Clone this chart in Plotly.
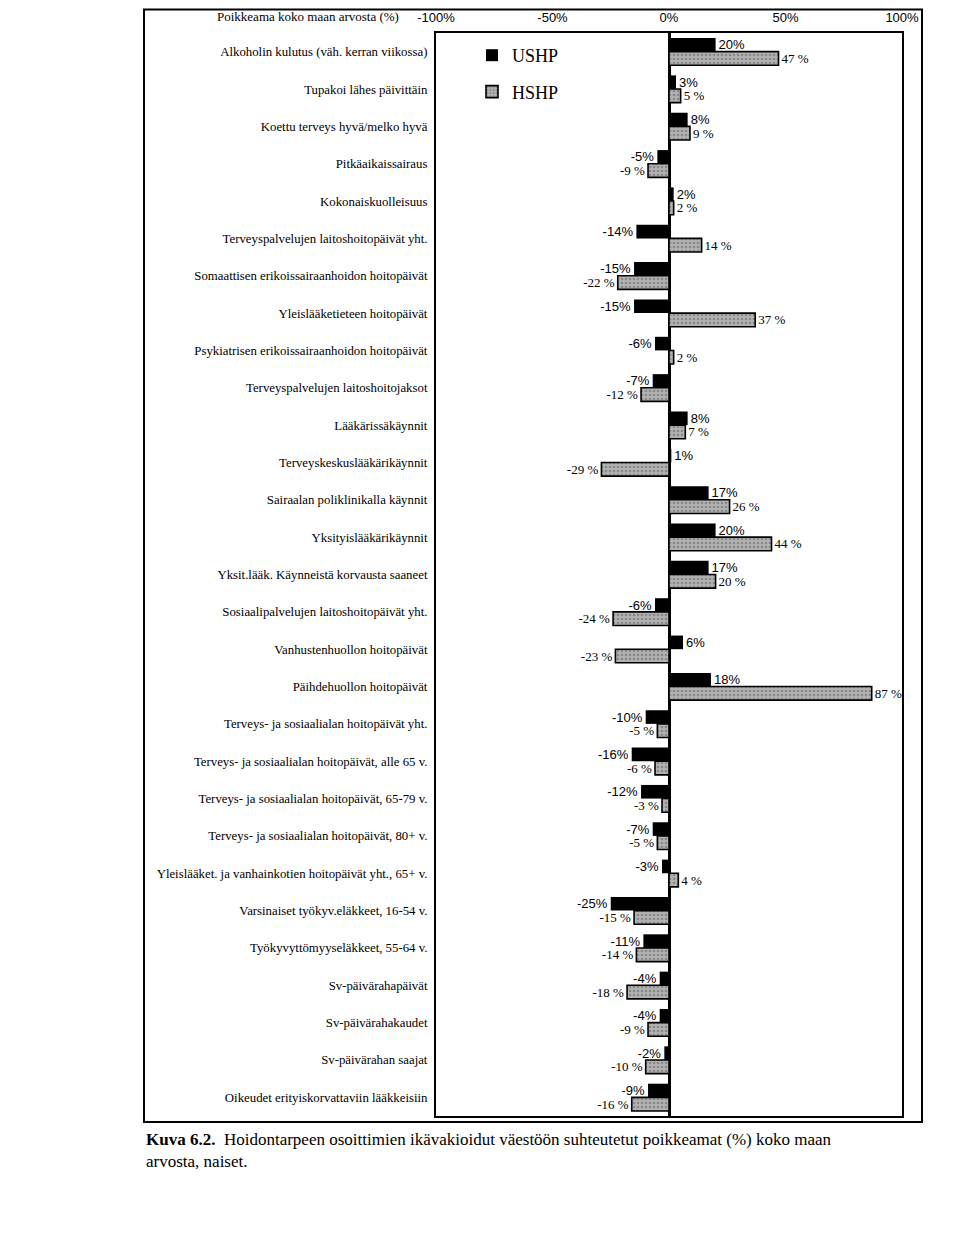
import plotly.graph_objects as go

categories = [
    "Alkoholin kulutus (väh. kerran viikossa)",
    "Tupakoi lähes päivittäin",
    "Koettu terveys hyvä/melko hyvä",
    "Pitkäaikaissairaus",
    "Kokonaiskuolleisuus",
    "Terveyspalvelujen laitoshoitopäivät yht.",
    "Somaattisen erikoissairaanhoidon hoitopäivät",
    "Yleislääketieteen hoitopäivät",
    "Psykiatrisen erikoissairaanhoidon hoitopäivät",
    "Terveyspalvelujen laitoshoitojaksot",
    "Lääkärissäkäynnit",
    "Terveyskeskuslääkärikäynnit",
    "Sairaalan poliklinikalla käynnit",
    "Yksityislääkärikäynnit",
    "Yksit.lääk. Käynneistä korvausta saaneet",
    "Sosiaalipalvelujen laitoshoitopäivät yht.",
    "Vanhustenhuollon hoitopäivät",
    "Päihdehuollon hoitopäivät",
    "Terveys- ja sosiaalialan hoitopäivät yht.",
    "Terveys- ja sosiaalialan hoitopäivät, alle 65 v.",
    "Terveys- ja sosiaalialan hoitopäivät, 65-79 v.",
    "Terveys- ja sosiaalialan hoitopäivät, 80+ v.",
    "Yleislääket. ja vanhainkotien hoitopäivät yht., 65+ v.",
    "Varsinaiset työkyv.eläkkeet, 16-54 v.",
    "Työkyvyttömyyseläkkeet, 55-64 v.",
    "Sv-päivärahapäivät",
    "Sv-päivärahakaudet",
    "Sv-päivärahan saajat",
    "Oikeudet erityiskorvattaviin lääkkeisiin",
]

ushp = [20, 3, 8, -5, 2, -14, -15, -15, -6, -7, 8, 1, 17, 20, 17, -6, 6, 18,
        -10, -16, -12, -7, -3, -25, -11, -4, -4, -2, -9]
hshp = [47, 5, 9, -9, 2, 14, -22, 37, 2, -12, 7, -29, 26, 44, 20, -24, -23, 87,
        -5, -6, -3, -5, 4, -15, -14, -18, -9, -10, -16]

tick_vals = [-100, -50, 0, 50, 100]
tick_text = ["-100%", "-50%", "0%", "50%", "100%"]

axis_title = "Poikkeama koko maan arvosta (%)"
caption = ("<b>Kuva 6.2.</b>  Hoidontarpeen osoittimien ikävakioidut väestöön suhteutetut "
           "poikkeamat (%) koko maan<br>arvosta, naiset.")

OFF = 8  # page body margin
W, H = 960 - OFF, 1243 - OFF
L, T = 436 - OFF, 33 - OFF
R = W - (902 - OFF)
B = H - (1116 - OFF)
pw = W - L - R
ph = H - T - B


def px_x(p):
    return (p - OFF - L) / pw


def px_y(p):
    return 1 - (p - OFF - T) / ph


fig = go.Figure()
fig.add_trace(go.Bar(
    name="USHP", y=categories, x=ushp, orientation="h",
    marker=dict(color="black", line=dict(width=0)),
    text=[f"{v}%" for v in ushp], textposition="outside", constraintext="none",
    textfont=dict(family="Liberation Sans", size=13, color="black"),
    legendgroup="u",
))
fig.add_trace(go.Bar(
    name="HSHP", y=categories, x=hshp, orientation="h",
    marker=dict(color="#a0a0a0", line=dict(color="black", width=1.6),
                pattern=dict(shape=".", fgcolor="#606060", bgcolor="#b2b2b2",
                             size=4, solidity=0.35)),
    text=[f"{v} %" for v in hshp], textposition="outside", constraintext="none",
    textfont=dict(family="Liberation Serif", size=13, color="black"),
    legendgroup="h",
))

fig.update_layout(
    width=W, height=H,
    margin=dict(l=L, r=R, t=T, b=B, autoexpand=False),
    paper_bgcolor="white", plot_bgcolor="white",
    barmode="group", bargap=0.27, bargroupgap=0,
    showlegend=True,
    legend=dict(x=px_x(472), y=px_y(37), xanchor="left", yanchor="top",
                font=dict(family="Liberation Serif", size=18, color="black"),
                bgcolor="rgba(0,0,0,0)", itemwidth=30, tracegroupgap=10),
    font=dict(family="Liberation Serif", color="black"),
    xaxis=dict(range=[-100, 100], side="top", tickvals=tick_vals, ticktext=tick_text,
               tickfont=dict(family="Liberation Sans", size=13, color="black"),
               showgrid=False, ticks="", showline=True, mirror=True,
               linecolor="black", linewidth=2, zeroline=True, automargin=False,
               zerolinecolor="black", zerolinewidth=2.5, ticklabelstandoff=4),
    yaxis=dict(autorange="reversed", showgrid=False, ticks="", automargin=False,
               tickfont=dict(family="Liberation Serif", size=12.8, color="black"),
               showline=True, mirror=True, linecolor="black", linewidth=2,
               ticklabelstandoff=4),
    shapes=[dict(type="rect", xref="paper", yref="paper",
                 x0=px_x(144), x1=px_x(922), y0=px_y(1122), y1=px_y(9.5),
                 line=dict(color="black", width=2), fillcolor="rgba(0,0,0,0)",
                 layer="below")],
    annotations=[
        dict(text=axis_title, xref="paper", yref="paper", x=px_x(401), y=px_y(17),
             xanchor="right", yanchor="middle", showarrow=False,
             font=dict(family="Liberation Serif", size=13, color="black")),
        dict(text=caption, xref="paper", yref="paper", x=px_x(144), y=px_y(1128),
             xanchor="left", yanchor="top", align="left", showarrow=False,
             font=dict(family="Liberation Serif", size=17, color="black")),
    ],
)

fig.write_html("out.html")
